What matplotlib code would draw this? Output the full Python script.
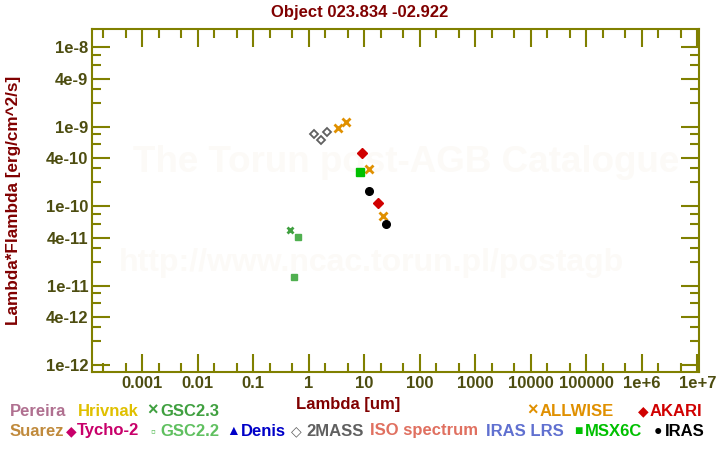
import numpy as np
import matplotlib
matplotlib.use("Agg")
import matplotlib.pyplot as plt
from matplotlib.ticker import FixedLocator, FuncFormatter

plt.rcParams["font.family"] = ["Liberation Sans", "DejaVu Sans"]
plt.rcParams["font.weight"] = "bold"

# photometry: wavelength [um], lambda*F_lambda [erg/cm^2/s]
gsc23_wl = [0.45]
gsc23_flux = [5.0e-11]
gsc22_wl = [0.65, 0.55]
gsc22_flux = [4.1e-11, 1.29e-11]
tmass_wl = [1.235, 1.662, 2.159]
tmass_flux = [8.1e-10, 6.9e-10, 8.6e-10]
allwise_wl = [3.4, 4.6, 12.0, 22.0]
allwise_flux = [9.6e-10, 1.15e-9, 2.94e-10, 7.5e-11]
akari_wl = [9.0, 18.0]
akari_flux = [4.67e-10, 1.1e-10]
msx_wl = [8.28]
msx_flux = [2.69e-10]
iras_wl = [12.0, 25.0]
iras_flux = [1.57e-10, 5.97e-11]

# legend entries (label, symbol, colour)
legend_row1 = [("Pereira", "", "#b07090"), ("Hrivnak", "", "#e0c000"),
               ("GSC2.3", "\u00d7", "#40a040"), ("ALLWISE", "\u00d7", "#e09000"),
               ("AKARI", "\u25c6", "#d00000")]
legend_row2 = [("Suarez", "", "#c08a3c"), ("Tycho-2", "\u25c6", "#c8006a"),
               ("GSC2.2", "\u25ab", "#60c060"), ("Denis", "\u25b2", "#0000c8"),
               ("2MASS", "\u25c7", "#606060"), ("ISO spectrum", "", "#e07060"),
               ("IRAS LRS", "", "#6070d0"), ("MSX6C", "\u25a0", "#00c000"),
               ("IRAS", "\u25cf", "#000000")]
row1_sym_x = [0, 0, 153, 533, 643]
row1_txt_x = [10, 78, 160, 540, 650]
row2_sym_x = [0, 71, 153, 233, 296, 0, 0, 578, 658]
row2_txt_x = [10, 77, 160, 241, 306, 370, 486, 585, 665]

OLIVE = "#808000"
TICKTXT = "#4d4d10"
DARKRED = "#800000"
W, H = 720, 450

fig = plt.figure(figsize=(7.2, 4.5), dpi=100)
ax = fig.add_axes([92.3 / W, 1 - 372 / H, (699.3 - 92.3) / W, (372 - 29.3) / H])
ax.set_xscale("log")
ax.set_yscale("log")
ax.set_xlim(1.26e-4, 1.087e7)
ax.set_ylim(8.2e-13, 1.68e-8)

# watermark
ax.text((406 - 92.3) / 607, (372 - 163) / 342.7, "The Torun post-AGB Catalogue",
        transform=ax.transAxes, fontsize=26.5, color="#fcfaf7",
        ha="center", va="center", zorder=0)
ax.text((371 - 92.3) / 607, (372 - 263) / 342.7, "http://www.ncac.torun.pl/postagb",
        transform=ax.transAxes, fontsize=23, color="#fcfaf7",
        ha="center", va="center", zorder=0)

ax.plot(gsc23_wl, gsc23_flux, "x", color="#40a040", ms=5, mew=2, ls="none")
ax.plot(gsc22_wl, gsc22_flux, "s", color="#50b050", ms=5, ls="none")
ax.plot(tmass_wl, tmass_flux, "D", mfc="white", mec="#606060", ms=4.2, mew=1.3, ls="none")
ax.plot(allwise_wl, allwise_flux, "x", color="#e09000", ms=5.5, mew=2, ls="none")
ax.plot(akari_wl, akari_flux, "D", color="#d00000", ms=5.5, ls="none")
ax.plot(msx_wl, msx_flux, "s", color="#00c000", ms=5.5, ls="none")
ax.plot(iras_wl, iras_flux, "o", color="#000000", ms=5.5, ls="none")

# ticks
x_major = [10.0 ** e for e in range(-3, 8)]
x_minor = [m * 10.0 ** e for e in range(-4, 7) for m in (2, 5)]
y_major = [m * 10.0 ** e for e in range(-12, -7) for m in (1, 4)]
y_minor = [m * 10.0 ** e for e in range(-13, -7) for m in (2, 3, 6, 8)]
ax.xaxis.set_major_locator(FixedLocator(x_major))
ax.xaxis.set_minor_locator(FixedLocator(x_minor))
ax.yaxis.set_major_locator(FixedLocator(y_major))
ax.yaxis.set_minor_locator(FixedLocator(y_minor))


def xfmt(v, pos):
    e = int(round(np.log10(v)))
    if e >= 6:
        return "1e+%d" % e
    if e >= 0:
        return "%d" % round(v)
    return ("%." + str(-e) + "f") % v


def yfmt(v, pos):
    e = int(np.floor(np.log10(v) + 1e-9))
    m = int(round(v / 10.0 ** e))
    return "%de%d" % (m, e)


ax.xaxis.set_major_formatter(FuncFormatter(xfmt))
ax.yaxis.set_major_formatter(FuncFormatter(yfmt))
ax.xaxis.set_minor_formatter(FuncFormatter(lambda v, p: ""))
ax.yaxis.set_minor_formatter(FuncFormatter(lambda v, p: ""))

ax.tick_params(which="both", direction="in", top=True, right=True,
               color=OLIVE, width=1.5, labelcolor=TICKTXT, labelsize=12, pad=3)
ax.tick_params(which="major", length=13)
ax.tick_params(which="minor", length=6.5)
for sp in ax.spines.values():
    sp.set_color(OLIVE)
    sp.set_linewidth(1.5)

fig.text(360 / W, 1 - 12 / H, "Object 023.834 -02.922", ha="center", va="center",
         fontsize=12, color=DARKRED)
fig.text(348 / W, 1 - 405 / H, "Lambda [um]", ha="center", va="center",
         fontsize=12, color=DARKRED)
fig.text(14 / W, 1 - 200 / H, "Lambda*Flambda [erg/cm^2/s]", ha="center",
         va="center", rotation=90, fontsize=12.3, color=DARKRED)

# legend
rows = [(legend_row1, row1_sym_x, row1_txt_x, 411),
        (legend_row2, row2_sym_x, row2_txt_x, 431)]
for entries, sym_x, txt_x, y in rows:
    for (label, sym, col), sx, tx in zip(entries, sym_x, txt_x):
        if sym:
            size = 13 if sym == "\u00d7" else 10
            fig.text(sx / W, 1 - y / H, sym, ha="center", va="center",
                     fontsize=size, color=col)
        fig.text(tx / W, 1 - y / H, label, ha="left", va="center",
                 fontsize=12, color=col)

fig.savefig("out.png", dpi=100, facecolor="white")
